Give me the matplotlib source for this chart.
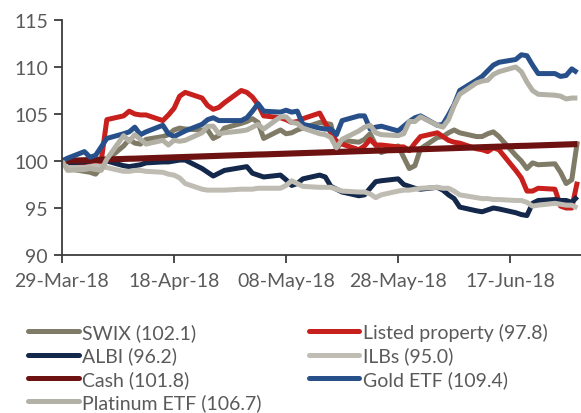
import matplotlib
matplotlib.use("Agg")
import matplotlib.pyplot as plt
import matplotlib.dates as mdates
import pandas as pd

dates = pd.bdate_range("2018-03-29", "2018-06-29")

swix = [100.0,99.2,98.9,98.8,98.6,99.3,100.1,101.6,102.3,101.9,
        101.8,102.3,102.6,102.8,103.3,103.5,103.4,103.3,103.3,102.4,
        102.7,103.5,104.0,104.2,104.5,104.1,102.4,103.3,102.9,103.0,
        103.3,103.5,104.1,104.0,103.9,101.2,102.2,102.0,102.3,102.9,
        101.7,100.9,101.6,100.4,99.2,99.5,101.3,102.5,102.6,103.0,
        103.3,103.0,102.6,102.6,102.9,103.1,102.6,100.6,100.0,99.2,
        99.8,99.6,99.7,98.8,97.6,98.0,102.1]
listed = [100.0,99.7,99.6,99.5,99.7,100.0,104.4,104.8,105.3,105.0,
          104.9,104.9,104.3,104.9,105.6,106.9,107.3,106.7,105.9,105.5,
          105.7,106.2,107.5,107.3,106.8,106.0,104.8,104.6,104.4,104.1,
          104.2,104.5,105.1,104.0,103.0,102.1,101.8,101.2,101.6,102.3,
          101.7,101.7,101.5,101.5,101.1,101.9,102.6,103.0,102.6,102.2,
          102.0,101.9,101.3,101.2,101.0,101.4,101.2,99.0,98.2,96.8,
          96.8,97.1,97.0,95.2,95.0,95.0,97.8]
albi = [100.0,99.8,99.9,100.0,100.1,100.1,100.0,99.5,99.4,99.5,
        99.6,99.8,99.9,99.9,100.0,100.1,100.1,99.2,98.8,98.4,
        98.7,99.0,99.3,99.4,98.7,98.5,98.3,98.5,98.0,97.4,
        97.6,98.1,98.5,98.3,97.3,97.0,96.7,96.3,96.4,97.1,
        97.8,97.9,98.1,97.5,97.3,97.1,97.0,97.2,96.9,96.4,
        96.0,95.1,94.7,94.6,94.8,95.0,94.9,94.5,94.3,94.2,
        95.5,95.8,95.9,95.8,95.8,95.6,96.2]
ilbs = [100.0,99.3,99.3,99.4,99.5,99.4,99.3,98.9,98.9,99.0,
        99.0,98.9,98.8,98.6,98.5,98.2,97.6,97.0,96.9,96.9,
        96.9,96.9,97.0,97.0,97.0,97.1,97.1,97.1,97.4,97.9,
        97.6,97.3,97.2,97.2,97.2,97.0,96.8,96.7,96.7,96.5,
        96.1,96.4,96.8,96.9,96.9,97.0,97.1,97.2,97.1,97.1,
        96.8,96.4,96.1,96.0,96.0,95.9,95.9,95.8,95.8,95.6,
        95.2,95.3,95.5,95.4,95.3,95.3,95.0]
cash = [100.00,100.02,100.08,100.10,100.12,100.14,100.16,100.22,100.24,100.25,
        100.27,100.29,100.35,100.37,100.39,100.41,100.43,100.49,100.51,100.53,
        100.55,100.57,100.63,100.65,100.67,100.69,100.70,100.76,100.78,100.80,
        100.82,100.84,100.90,100.92,100.94,100.96,100.98,101.04,101.06,101.08,
        101.10,101.12,101.17,101.19,101.21,101.23,101.25,101.31,101.33,101.35,
        101.37,101.39,101.45,101.47,101.49,101.51,101.53,101.59,101.61,101.62,
        101.64,101.66,101.72,101.74,101.76,101.78,101.80]
gold = [100.0,100.3,101.0,100.4,100.6,101.5,102.4,102.9,103.1,103.6,
        102.8,103.1,103.8,102.9,102.6,102.9,103.2,103.9,104.4,104.6,
        104.3,104.3,104.3,104.6,105.3,106.1,105.3,105.2,105.4,105.2,
        105.3,103.9,103.5,103.4,103.4,102.8,104.3,104.8,104.8,103.4,
        103.6,103.7,103.2,103.7,104.2,104.6,104.8,103.8,103.9,104.9,
        106.0,107.5,108.6,109.0,109.6,110.2,110.5,110.8,111.3,111.2,
        110.2,109.3,109.3,109.0,109.1,109.8,109.4]
platinum = [100.0,99.0,99.1,99.2,99.1,99.0,100.2,102.7,102.1,102.8,
            102.3,101.8,102.2,101.7,102.2,102.1,102.2,103.0,103.7,103.7,
            102.9,103.0,103.2,103.3,103.6,103.9,103.4,104.7,104.7,104.1,
            104.0,103.5,102.9,102.8,102.5,101.4,102.3,103.2,103.6,103.8,
            103.0,102.8,102.7,102.9,104.2,104.2,104.7,103.8,103.6,104.4,
            105.9,107.1,108.3,108.5,108.6,109.2,109.5,110.0,109.5,108.4,
            107.5,107.1,107.0,106.9,106.6,106.7,106.7]

labels = ["SWIX (102.1)", "Listed property (97.8)", "ALBI (96.2)", "ILBs (95.0)",
          "Cash (101.8)", "Gold ETF (109.4)", "Platinum ETF (106.7)"]
series = [swix, listed, albi, ilbs, cash, gold, platinum]
colors = ["#7f7b66", "#c8201c", "#13284a", "#bfbcb3", "#6e1111", "#27508a", "#b3b1a5"]
widths = [3.6, 3.6, 3.6, 3.6, 4.4, 3.6, 3.6]

tick_dates = pd.to_datetime(["2018-03-29", "2018-04-18", "2018-05-08", "2018-05-28", "2018-06-17"])
yticks = [90, 95, 100, 105, 110, 115]

plt.rcParams["font.family"] = ["Lato", "DejaVu Sans"]
txt_color = "#5a5a5a"
spine_color = "#3c3c3c"

fig = plt.figure(figsize=(5.81, 4.14), dpi=100)
ax = fig.add_axes([62/581, 1-256/414, 1-62/581, (256-21)/414])

lines = {}
for lab, s, c, w in zip(labels, series, colors, widths):
    ln, = ax.plot(dates, s, color=c, lw=w, solid_joinstyle="round", solid_capstyle="butt", label=lab)
    lines[lab] = ln

ax.set_ylim(90, 115)
ax.set_xlim(pd.Timestamp("2018-03-29"), pd.Timestamp("2018-03-29") + pd.Timedelta(days=92.65))
ax.set_yticks(yticks)
ax.set_xticks(tick_dates)
ax.xaxis.set_major_formatter(mdates.DateFormatter("%d-%b-%y"))

for sp in ["top", "right"]:
    ax.spines[sp].set_visible(False)
for sp in ["left", "bottom"]:
    ax.spines[sp].set_color(spine_color)
    ax.spines[sp].set_linewidth(1.3)
ax.tick_params(axis="both", colors=spine_color, length=6, width=1.3, labelsize=14,
               labelcolor=txt_color, direction="out")
ax.tick_params(axis="y", pad=4)
ax.tick_params(axis="x", pad=6)

order = [labels[0], labels[2], labels[4], labels[6], labels[1], labels[3], labels[5]]
leg = fig.legend([lines[l] for l in order], order, ncol=2, loc="upper left",
                 bbox_to_anchor=(28/581, 1-324/414), frameon=False,
                 fontsize=14, handlelength=2.6, handletextpad=0.2,
                 labelspacing=0.28, columnspacing=2.4, borderpad=0, borderaxespad=0)
for t in leg.get_texts():
    t.set_color(txt_color)
for l in leg.get_lines():
    l.set_solid_capstyle("round")
    l.set_linewidth(3.6)

fig.savefig("out.png", dpi=100)
